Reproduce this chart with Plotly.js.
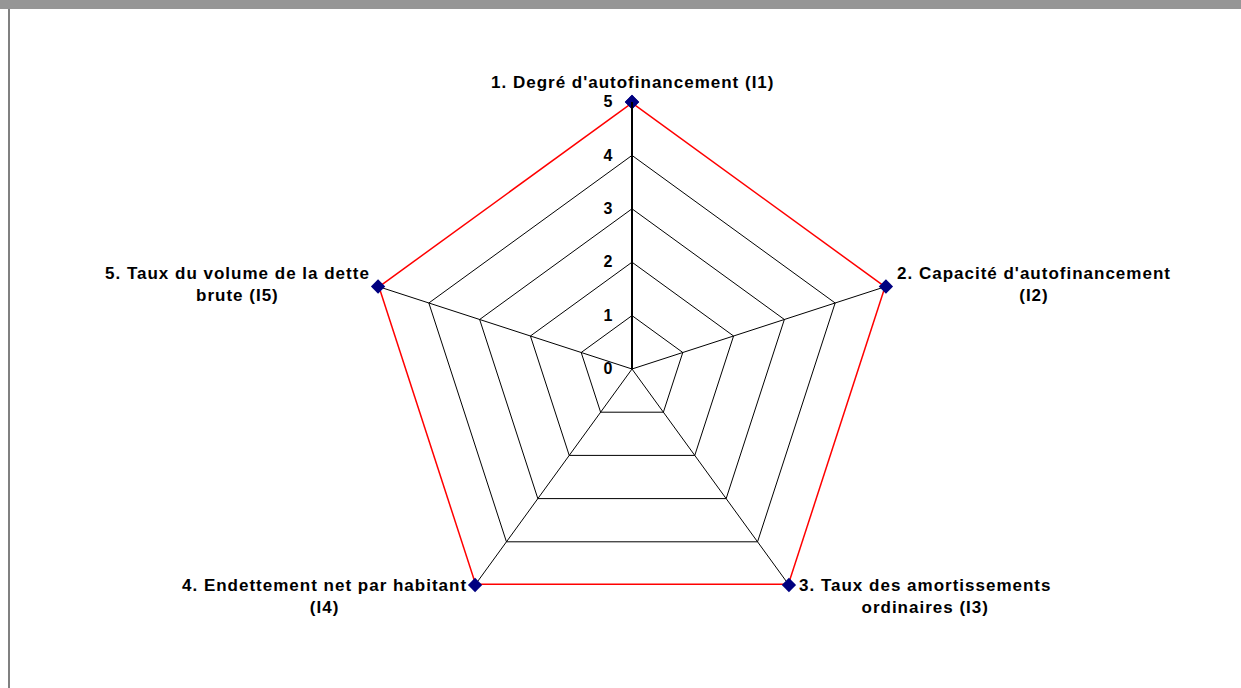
<!DOCTYPE html>
<html>
<head>
<meta charset="utf-8">
<script src="https://cdn.plot.ly/plotly-3.0.1.min.js"></script>
<style>
html,body{margin:0;padding:0;background:#fff;}
#chart{width:1241px;height:688px;}
</style>
</head>
<body>
<div id="chart"></div>
<script>
var categories = [
  "1. Degré d'autofinancement (I1)",
  "2. Capacité d'autofinancement (I2)",
  "3. Taux des amortissements ordinaires (I3)",
  "4. Endettement net par habitant (I4)",
  "5. Taux du volume de la dette brute (I5)"
];
var labelTexts = [
  "1. Degré d'autofinancement (I1)",
  "2. Capacité d'autofinancement<br>(I2)",
  "3. Taux des amortissements<br>ordinaires (I3)",
  "4. Endettement net par habitant<br>(I4)",
  "5. Taux du volume de la dette<br>brute (I5)"
];
var values = [5, 5, 5, 5, 5];
var radialTicks = [0, 1, 2, 3, 4, 5];

var W = 1241, H = 688;
var mL = 365, mR = 342, mT = 102, mB = 52;
var rMax = 5;
var font = "Arial, 'Liberation Sans', sans-serif";

function spaced(s, ls) {
  return s.split('<br>').map(function(line) {
    return '<span style="letter-spacing:' + ls + 'px"><b>' + line + '</b></span>';
  }).join('<br>');
}

// label placement per category (anchor/shift)
var labelStyle = [
  {xa: 'center', ya: 'bottom', xs: 0, ys: 8},
  {xa: 'left', ya: 'middle', xs: 9, ys: 2},
  {xa: 'left', ya: 'middle', xs: 8, ys: -11},
  {xa: 'right', ya: 'middle', xs: -6, ys: -11},
  {xa: 'right', ya: 'middle', xs: -6, ys: 2}
];

var n = categories.length;
var annotations = categories.map(function(c, i) {
  var th = (90 - 360 / n * i) * Math.PI / 180;
  var r = values[i] / rMax;
  return {
    xref: 'paper', yref: 'paper',
    x: 0.5 + 0.5 * r * Math.cos(th),
    y: 0.5 + 0.5 * r * Math.sin(th),
    text: spaced(labelTexts[i], 1),
    showarrow: false,
    xanchor: labelStyle[i].xa, yanchor: labelStyle[i].ya,
    xshift: labelStyle[i].xs, yshift: labelStyle[i].ys,
    align: 'center',
    font: {family: font, size: 17, color: '#000'}
  };
});

var trace = {
  type: 'scatterpolar',
  r: values.concat([values[0]]),
  theta: categories.concat([categories[0]]),
  mode: 'lines+markers',
  line: {color: '#ff0000', width: 3},
  marker: {symbol: 'diamond', size: 11, color: '#000080'},
  hoverinfo: 'skip',
  showlegend: false
};

var layout = {
  width: W, height: H,
  margin: {l: mL, r: mR, t: mT, b: mB, pad: 0},
  paper_bgcolor: '#ffffff',
  showlegend: false,
  polar: {
    domain: {x: [0, 1], y: [0, 1]},
    bgcolor: 'rgba(0,0,0,0)',
    gridshape: 'linear',
    angularaxis: {
      type: 'category',
      categoryarray: categories,
      rotation: 90,
      direction: 'clockwise',
      showticklabels: false,
      ticks: '',
      showline: false,
      showgrid: true,
      gridcolor: '#000000',
      gridwidth: 1
    },
    radialaxis: {
      range: [0, rMax],
      tickvals: radialTicks,
      ticktext: radialTicks.map(function(v){return '<b>' + v + '</b>';}),
      angle: 90,
      side: 'counterclockwise',
      tickangle: 90,
      showline: true,
      linecolor: '#000000',
      linewidth: 2,
      ticks: 'outside',
      ticklen: 13,
      tickcolor: 'rgba(0,0,0,0)',
      showgrid: true,
      gridcolor: '#000000',
      gridwidth: 1,
      tickfont: {family: font, size: 16, color: '#000'}
    }
  },
  annotations: annotations,
  shapes: [
    {type: 'rect', xref: 'paper', yref: 'paper', layer: 'below',
     x0: -mL / (W - mL - mR), x1: 1 + mR / (W - mL - mR),
     y0: 1 + (mT - 9) / (H - mT - mB), y1: 1 + mT / (H - mT - mB),
     fillcolor: '#969696', line: {width: 0}},
    {type: 'rect', xref: 'paper', yref: 'paper', layer: 'below',
     x0: (8 - mL) / (W - mL - mR), x1: (10 - mL) / (W - mL - mR),
     y0: -mB / (H - mT - mB), y1: 1 + (mT - 9) / (H - mT - mB),
     fillcolor: '#808080', line: {width: 0}}
  ]
};

Plotly.newPlot('chart', [trace], layout, {staticPlot: true, displayModeBar: false});
</script>
</body>
</html>
